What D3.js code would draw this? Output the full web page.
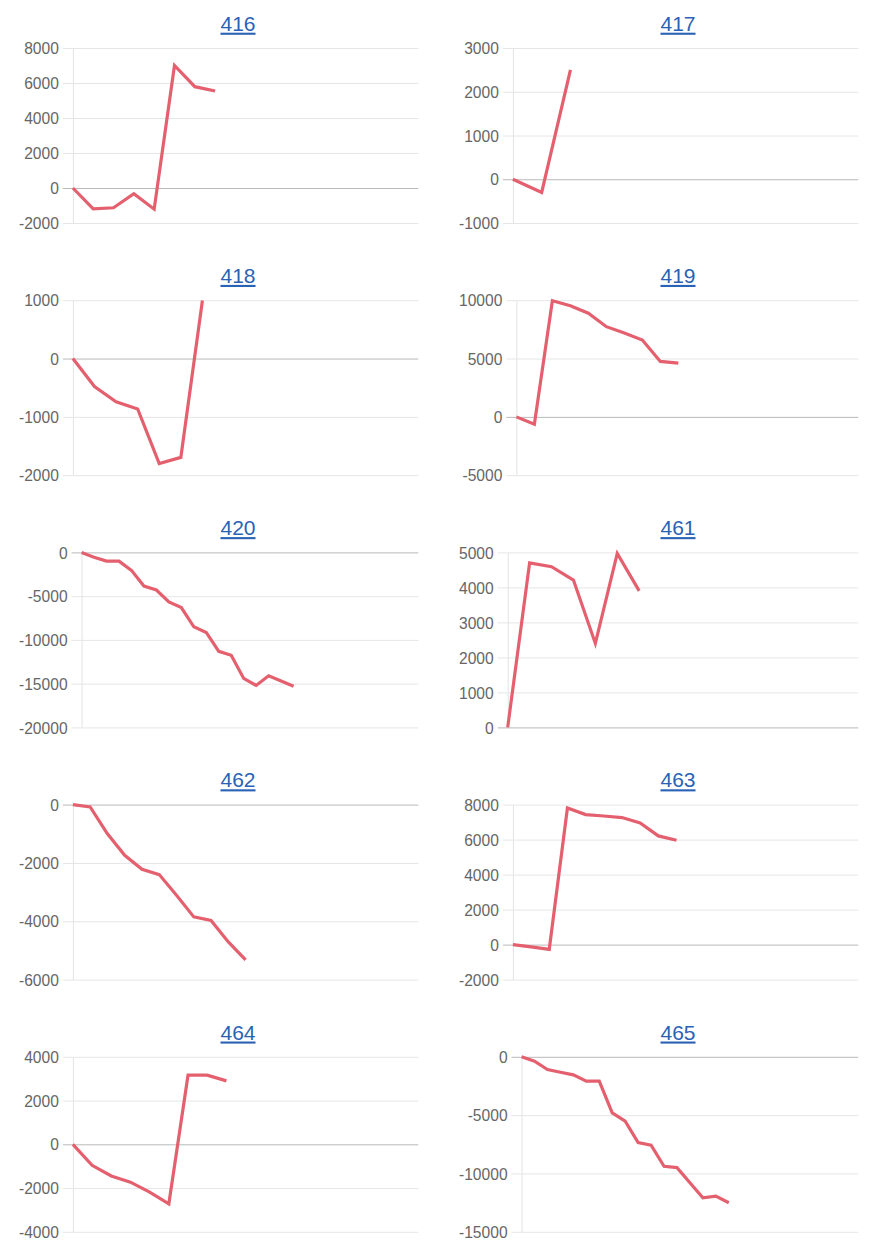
<!DOCTYPE html>
<html>
<head>
<meta charset="utf-8">
<script src="https://cdn.jsdelivr.net/npm/d3@7"></script>
<style>
  body { margin: 0; background: #fff; }
  svg { display: block; }
</style>
</head>
<body>
<svg id="charts" width="880" height="1248"></svg>
<script>
// Noms dels gràfics (ordre: esquerra/dreta, fila per fila)
const chartIds = ["416", "417", "418", "419", "420", "461", "462", "463", "464", "465"];

// Sèries (valors acumulats)
const values416 = [0, -1190, -1130, -330, -1210, 7000, 5790, 5540];
const values417 = [0, -300, 2500];
const values418 = [0, -480, -740, -865, -1800, -1695, 995];
const values419 = [0, -630, 9950, 9530, 8880, 7730, 7190, 6590, 4750, 4600];
const values420 = [0, -550, -1000, -1000, -2050, -3850, -4300, -5650, -6300, -8500, -9150, -11300, -11750, -14400, -15200, -14100, -14700, -15300];
const values461 = [0, 4700, 4590, 4210, 2400, 4970, 3900];
const values462 = [0, -80, -1000, -1740, -2220, -2400, -3110, -3850, -3970, -4710, -5320];
const values463 = [0, -130, -270, 7810, 7430, 7350, 7260, 6950, 6210, 5960];
const values464 = [0, -960, -1450, -1730, -2190, -2720, 3160, 3160, 2900];
const values465 = [0, -370, -1090, -1320, -1550, -2090, -2090, -4810, -5520, -7350, -7580, -9380, -9500, -10790, -12080, -11940, -12510];

// Etiquetes de l'eix Y
const ticks416 = [-2000, 0, 2000, 4000, 6000, 8000];
const ticks417 = [-1000, 0, 1000, 2000, 3000];
const ticks418 = [-2000, -1000, 0, 1000];
const ticks419 = [-5000, 0, 5000, 10000];
const ticks420 = [-20000, -15000, -10000, -5000, 0];
const ticks461 = [0, 1000, 2000, 3000, 4000, 5000];
const ticks462 = [-6000, -4000, -2000, 0];
const ticks463 = [-2000, 0, 2000, 4000, 6000, 8000];
const ticks464 = [-4000, -2000, 0, 2000, 4000];
const ticks465 = [-15000, -10000, -5000, 0];

// Categories buides al final de cada eix X
const emptyCategories = 10;

const allValues = [values416, values417, values418, values419, values420,
                   values461, values462, values463, values464, values465];
const allTicks = [ticks416, ticks417, ticks418, ticks419, ticks420,
                  ticks461, ticks462, ticks463, ticks464, ticks465];

const panels = chartIds.map((id, i) => ({ id, values: allValues[i], ticks: allTicks[i] }));

const fontFamily = '"Helvetica Neue", Helvetica, Arial, "Liberation Sans", sans-serif';
const colWidth = 440,
      firstTop = 48,
      rowStep = 252.2,
      plotHeight = 175;

const svg = d3.select("#charts");

panels.forEach((p, i) => {
    const col = i % 2,
          row = Math.floor(i / 2);
    const x0 = col * colWidth;
    const top = firstTop + row * rowStep;

    const g = svg.append("g");

    // Mida de l'etiqueta més llarga per situar l'eix
    const probe = g.append("g")
        .attr("font-family", fontFamily)
        .attr("font-size", 15.6);
    const maxW = d3.max(p.ticks, t => probe.append("text").text(String(t)).node().getComputedTextLength());
    probe.remove();

    const left = x0 + 18.5 + maxW + 14.5,
          right = x0 + 418.3;

    // Escala Y
    const y = d3.scaleLinear()
        .domain(d3.extent(p.ticks))
        .range([top + plotHeight, top]);

    // Escala X (categories)
    const x = d3.scalePoint()
        .domain(d3.range(p.values.length + emptyCategories))
        .range([left, right]);

    // Eix Y amb graella
    g.append("g")
        .attr("transform", `translate(${left},0)`)
        .call(d3.axisLeft(y)
            .tickValues(p.ticks)
            .tickFormat(d => String(d))
            .tickSizeInner(-(right - left))
            .tickSizeOuter(0)
            .tickPadding(14))
        .call(a => a.select(".domain").attr("stroke", "#e3e3e3").attr("stroke-width", 1))
        .call(a => a.selectAll(".tick line")
            .attr("x1", -10)
            .attr("stroke", d => d === 0 ? "#b9b9b9" : "#e6e6e6")
            .attr("stroke-width", 1))
        .call(a => a.selectAll(".tick text")
            .attr("fill", "#666")
            .attr("font-family", fontFamily)
            .attr("font-size", 15.6)
            .attr("dy", "0.36em"))
        .attr("font-family", null)
        .attr("font-size", null);

    // Línia
    const line = d3.line()
        .x((d, k) => x(k))
        .y(d => y(d));

    g.append("path")
        .datum(p.values)
        .attr("d", line)
        .attr("fill", "none")
        .attr("stroke", "#e4606f")
        .attr("stroke-width", 3.2)
        .attr("stroke-linejoin", "miter");

    // Títol (enllaç)
    g.append("text")
        .attr("x", x0 + 238)
        .attr("y", top - 17.3)
        .attr("text-anchor", "middle")
        .attr("font-family", fontFamily)
        .attr("font-size", 21)
        .attr("fill", "#2a62b7")
        .style("text-decoration", "underline")
        .text(p.id);
});
</script>
</body>
</html>
